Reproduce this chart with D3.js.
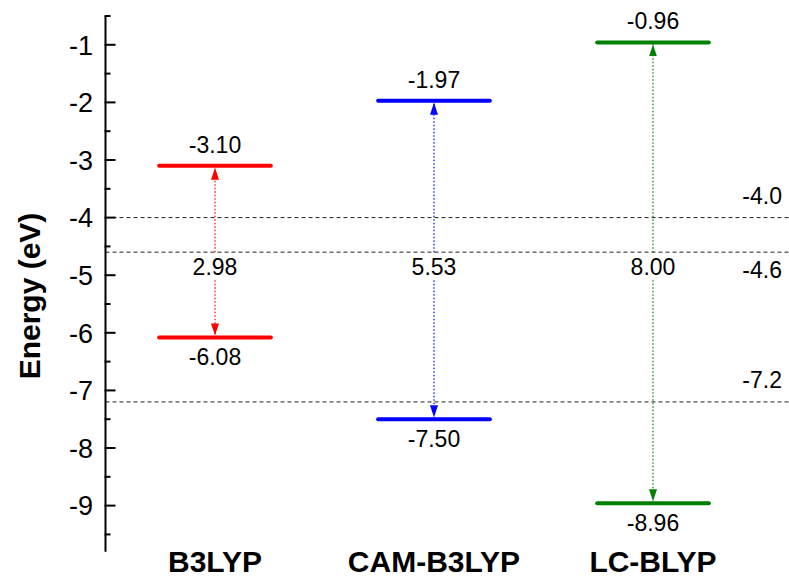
<!DOCTYPE html>
<html>
<head>
<meta charset="utf-8">
<script src="https://d3js.org/d3.v7.min.js"></script>
<style>
  html, body { margin: 0; padding: 0; background: #fff; }
  svg { display: block; font-family: "Liberation Sans", Arial, sans-serif; }
</style>
</head>
<body>
<div id="chart"></div>
<script>
// data
var methods = ['B3LYP', 'CAM-B3LYP', 'LC-BLYP'];
var lumo = [-3.10, -1.97, -0.96];
var homo = [-6.08, -7.50, -8.96];
var colors = ['#ff0000', '#0000ff', '#008000'];
var refLevels = [-4.0, -4.6, -7.2];
var refLabels = ['-4.0', '-4.6', '-7.2'];
var yTicks = [-1, -2, -3, -4, -5, -6, -7, -8, -9];

var W = 789, H = 578;
var svg = d3.select('#chart').append('svg')
	.attr('width', W)
	.attr('height', H);

var x = d3.scaleLinear().domain([0.5, 3.5]).range([105.5, 762.5]);
var y = d3.scaleLinear().domain([-9.8, -0.5]).range([551.7, 16]);
var halfW = 0.255;

// reference dashed lines
svg.append('g').selectAll('line')
	.data(refLevels)
	.enter().append('line')
	.attr('x1', x(0.5)).attr('x2', W)
	.attr('y1', function(d) { return y(d); })
	.attr('y2', function(d) { return y(d); })
	.attr('stroke', '#222')
	.attr('stroke-width', 1)
	.attr('stroke-dasharray', '4,3');

// labels of the reference lines (-4.6 sits below its line)
svg.append('g').selectAll('text')
	.data(refLevels)
	.enter().append('text')
	.attr('x', 782)
	.attr('y', function(d, i) { return i == 1 ? y(d) + 26 : y(d) - 14; })
	.attr('text-anchor', 'end')
	.attr('font-size', 23)
	.text(function(d, i) { return refLabels[i]; });

// y axis
var axis = svg.append('g').attr('transform', 'translate(' + x(0.5) + ',0)');
axis.append('line')
	.attr('y1', y(-0.5)).attr('y2', y(-9.8))
	.attr('stroke', '#000').attr('stroke-width', 2);
var minor = d3.range(-9.5, 0, 1);
axis.selectAll('.minor')
	.data(minor)
	.enter().append('line')
	.attr('class', 'minor')
	.attr('x1', -1).attr('x2', 5)
	.attr('y1', function(d) { return y(d); })
	.attr('y2', function(d) { return y(d); })
	.attr('stroke', '#000').attr('stroke-width', 2);
axis.selectAll('.major')
	.data(yTicks)
	.enter().append('line')
	.attr('class', 'major')
	.attr('x1', -1).attr('x2', 10)
	.attr('y1', function(d) { return y(d); })
	.attr('y2', function(d) { return y(d); })
	.attr('stroke', '#000').attr('stroke-width', 2);
axis.selectAll('.tlabel')
	.data(yTicks)
	.enter().append('text')
	.attr('class', 'tlabel')
	.attr('x', -12.5)
	.attr('y', function(d) { return y(d); })
	.attr('dy', '0.36em')
	.attr('text-anchor', 'end')
	.attr('font-size', 27)
	.text(function(d) { return d; });

svg.append('text')
	.attr('transform', 'translate(40,' + 296 + ') rotate(-90)')
	.attr('text-anchor', 'middle')
	.attr('font-size', 30)
	.attr('font-weight', 'bold')
	.text('Energy (eV)');

// category labels
svg.append('g').selectAll('text')
	.data(methods)
	.enter().append('text')
	.attr('x', function(d, i) { return x(i + 1); })
	.attr('y', 572)
	.attr('text-anchor', 'middle')
	.attr('font-size', 30)
	.attr('font-weight', 'bold')
	.text(function(d) { return d; });

// arrowheads
var defs = svg.append('defs');
colors.forEach(function(c, i) {
	defs.append('marker')
		.attr('id', 'arr' + i)
		.attr('viewBox', '0 0 12 8')
		.attr('refX', 12).attr('refY', 4)
		.attr('markerWidth', 12).attr('markerHeight', 8)
		.attr('markerUnits', 'userSpaceOnUse')
		.attr('orient', 'auto')
		.append('path')
		.attr('d', 'M0,0L12,4L0,8Z')
		.attr('fill', c);
});

var gapTop = y(-4.6), gapBot = y(-4.6) + 28;

methods.forEach(function(m, i) {
	var g = svg.append('g');
	var cx = x(i + 1);
	var c = colors[i];
	// dotted arrows, broken around the gap value
	g.append('line')
		.attr('x1', cx).attr('x2', cx)
		.attr('y1', gapTop).attr('y2', y(lumo[i]) + 2)
		.attr('stroke', c).attr('stroke-width', 1.2)
		.attr('stroke-dasharray', '1.5,2')
		.attr('marker-end', 'url(#arr' + i + ')');
	g.append('line')
		.attr('x1', cx).attr('x2', cx)
		.attr('y1', gapBot).attr('y2', y(homo[i]) - 2)
		.attr('stroke', c).attr('stroke-width', 1.2)
		.attr('stroke-dasharray', '1.5,2')
		.attr('marker-end', 'url(#arr' + i + ')');
	// levels
	[lumo[i], homo[i]].forEach(function(v) {
		g.append('line')
			.attr('x1', x(i + 1 - halfW)).attr('x2', x(i + 1 + halfW))
			.attr('y1', y(v)).attr('y2', y(v))
			.attr('stroke', c).attr('stroke-width', 4)
			.attr('stroke-linecap', 'round');
	});
	g.append('text')
		.attr('x', cx).attr('y', y(lumo[i]) - 13)
		.attr('text-anchor', 'middle').attr('font-size', 23)
		.text(lumo[i].toFixed(2));
	g.append('text')
		.attr('x', cx).attr('y', y(homo[i]) + 28)
		.attr('text-anchor', 'middle').attr('font-size', 23)
		.text(homo[i].toFixed(2));
	g.append('text')
		.attr('x', cx).attr('y', gapTop + 15)
		.attr('dy', '0.36em')
		.attr('text-anchor', 'middle').attr('font-size', 23)
		.text((lumo[i] - homo[i]).toFixed(2));
});
</script>
</body>
</html>
